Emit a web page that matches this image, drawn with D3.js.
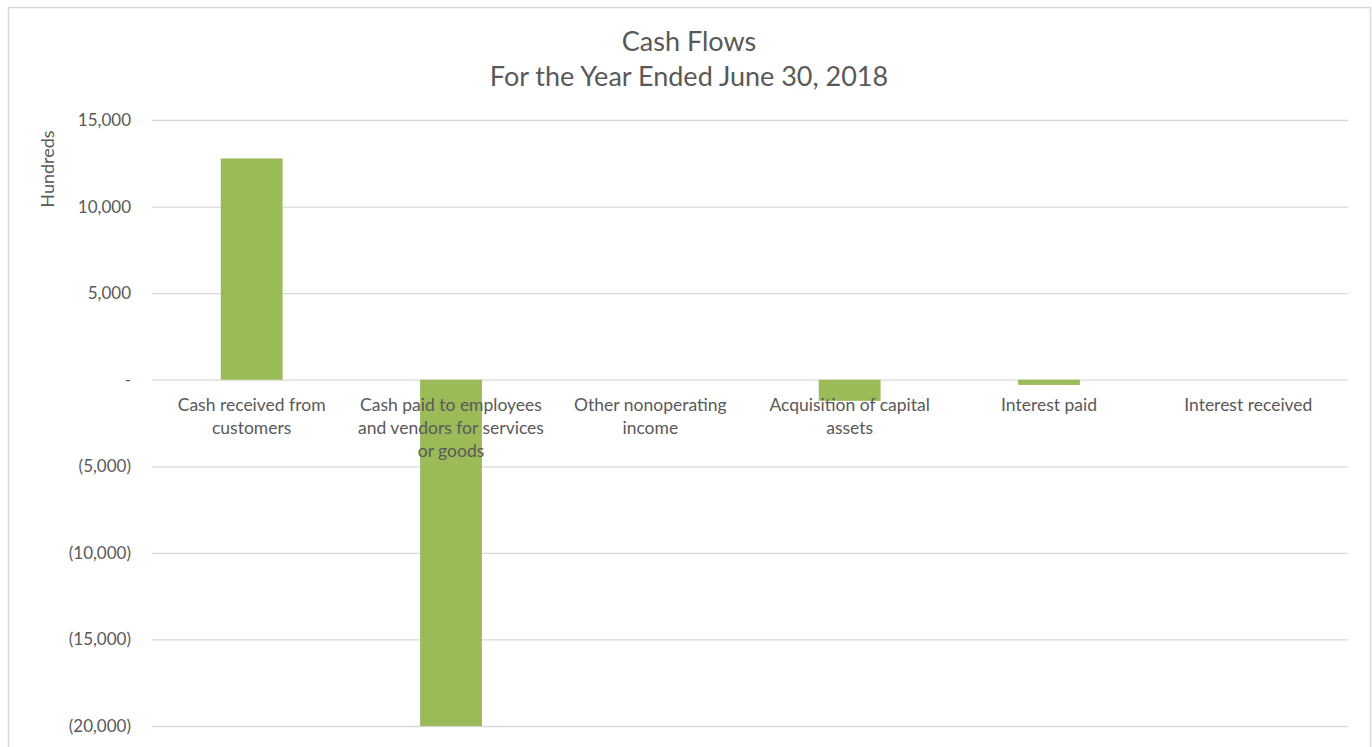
<!DOCTYPE html>
<html lang="en">

<head>
    <meta charset="utf-8">
    <title>Cash Flows</title>
    <script type="text/javascript" src="https://cdn.jsdelivr.net/npm/d3@7/dist/d3.min.js"></script>
    <style>
        body { margin: 0; background: #fff; }
        text { font-family: Lato, "Open Sans", sans-serif; fill: #595959; }
    </style>
</head>

<body>

    <script type="text/javascript">
        // chart data (in hundreds)
        var categories = ["Cash received from customers",
            "Cash paid to employees and vendors for services or goods",
            "Other nonoperating income",
            "Acquisition of capital assets",
            "Interest paid",
            "Interest received"];
        var values = [12780, -20000, 0, -1220, -300, 0];
        var yTicks = [15000, 10000, 5000, 0, -5000, -10000, -15000, -20000];
        var titleLines = ["Cash Flows", "For the Year Ended June 30, 2018"];

        var w = 1372;
        var h = 747;
        var plotLeft = 152, plotRight = 1348, plotTop = 120, plotBottom = 726;

        var svg = d3.select("body")
            .append("svg")
            .attr("width", w)
            .attr("height", h);

        // outer chart border
        svg.append("rect")
            .attr("x", 8.5)
            .attr("y", 7.5)
            .attr("width", 1362)
            .attr("height", 780)
            .attr("fill", "none")
            .attr("stroke", "#d9d9d9")
            .attr("stroke-width", 1.5);

        var x = d3.scaleBand()
            .domain(categories)
            .range([plotLeft, plotRight])
            .paddingInner(0.69)
            .paddingOuter(0.345);

        var y = d3.scaleLinear()
            .domain([-20000, 15000])
            .range([plotBottom, plotTop]);

        var fmt = d3.format(",");
        function acct(d) {
            if (d === 0) return "-";
            return d < 0 ? "(" + fmt(-d) + ")" : fmt(d);
        }

        // gridlines
        var grid = svg.append("g")
            .attr("transform", "translate(" + plotLeft + ",0)")
            .call(d3.axisLeft(y).tickValues(yTicks).tickSize(-(plotRight - plotLeft)).tickFormat(""));
        grid.select(".domain").remove();
        grid.selectAll("line").attr("stroke", "#d9d9d9").attr("stroke-width", 1.3);

        // y axis labels
        var yAxis = svg.append("g")
            .attr("transform", "translate(134,0)")
            .call(d3.axisLeft(y).tickValues(yTicks).tickSize(0).tickFormat(acct));
        yAxis.select(".domain").remove();
        yAxis.selectAll("text")
            .attr("font-size", "17px")
            .attr("fill", "#595959")
            .style("font-family", "Lato, sans-serif");

        // bars
        svg.selectAll("rect.bar")
            .data(values)
            .enter()
            .append("rect")
            .attr("class", "bar")
            .attr("x", function(d, i) { return x(categories[i]); })
            .attr("y", function(d) { return y(Math.max(0, d)); })
            .attr("width", x.bandwidth())
            .attr("height", function(d) { return Math.abs(y(d) - y(0)); })
            .attr("fill", "#9bbb59");

        // category labels, wrapped to the band
        var maxW = 196;
        var labels = svg.selectAll("text.cat")
            .data(categories)
            .enter()
            .append("text")
            .attr("class", "cat")
            .attr("x", function(d) { return x(d) + x.bandwidth() / 2; })
            .attr("y", y(0) + 31)
            .attr("text-anchor", "middle")
            .attr("font-size", "17.5px");

        labels.each(function(d) {
            var el = d3.select(this);
            var words = d.split(" ");
            var line = [];
            var tspan = el.append("tspan").attr("x", el.attr("x")).attr("dy", 0);
            words.forEach(function(word) {
                line.push(word);
                tspan.text(line.join(" "));
                if (tspan.node().getComputedTextLength() > maxW && line.length > 1) {
                    line.pop();
                    tspan.text(line.join(" "));
                    line = [word];
                    tspan = el.append("tspan").attr("x", el.attr("x")).attr("dy", 23).text(word);
                }
            });
        });

        // axis title
        svg.append("text")
            .attr("transform", "translate(54,169) rotate(-90)")
            .attr("text-anchor", "middle")
            .attr("font-size", "18px")
            .text("Hundreds");

        // chart title
        svg.selectAll("text.title")
            .data(titleLines)
            .enter()
            .append("text")
            .attr("class", "title")
            .attr("x", 689)
            .attr("y", function(d, i) { return 51 + i * 35; })
            .attr("text-anchor", "middle")
            .attr("font-size", "27px")
            .text(function(d) { return d; });
    </script>
</body>

</html>
